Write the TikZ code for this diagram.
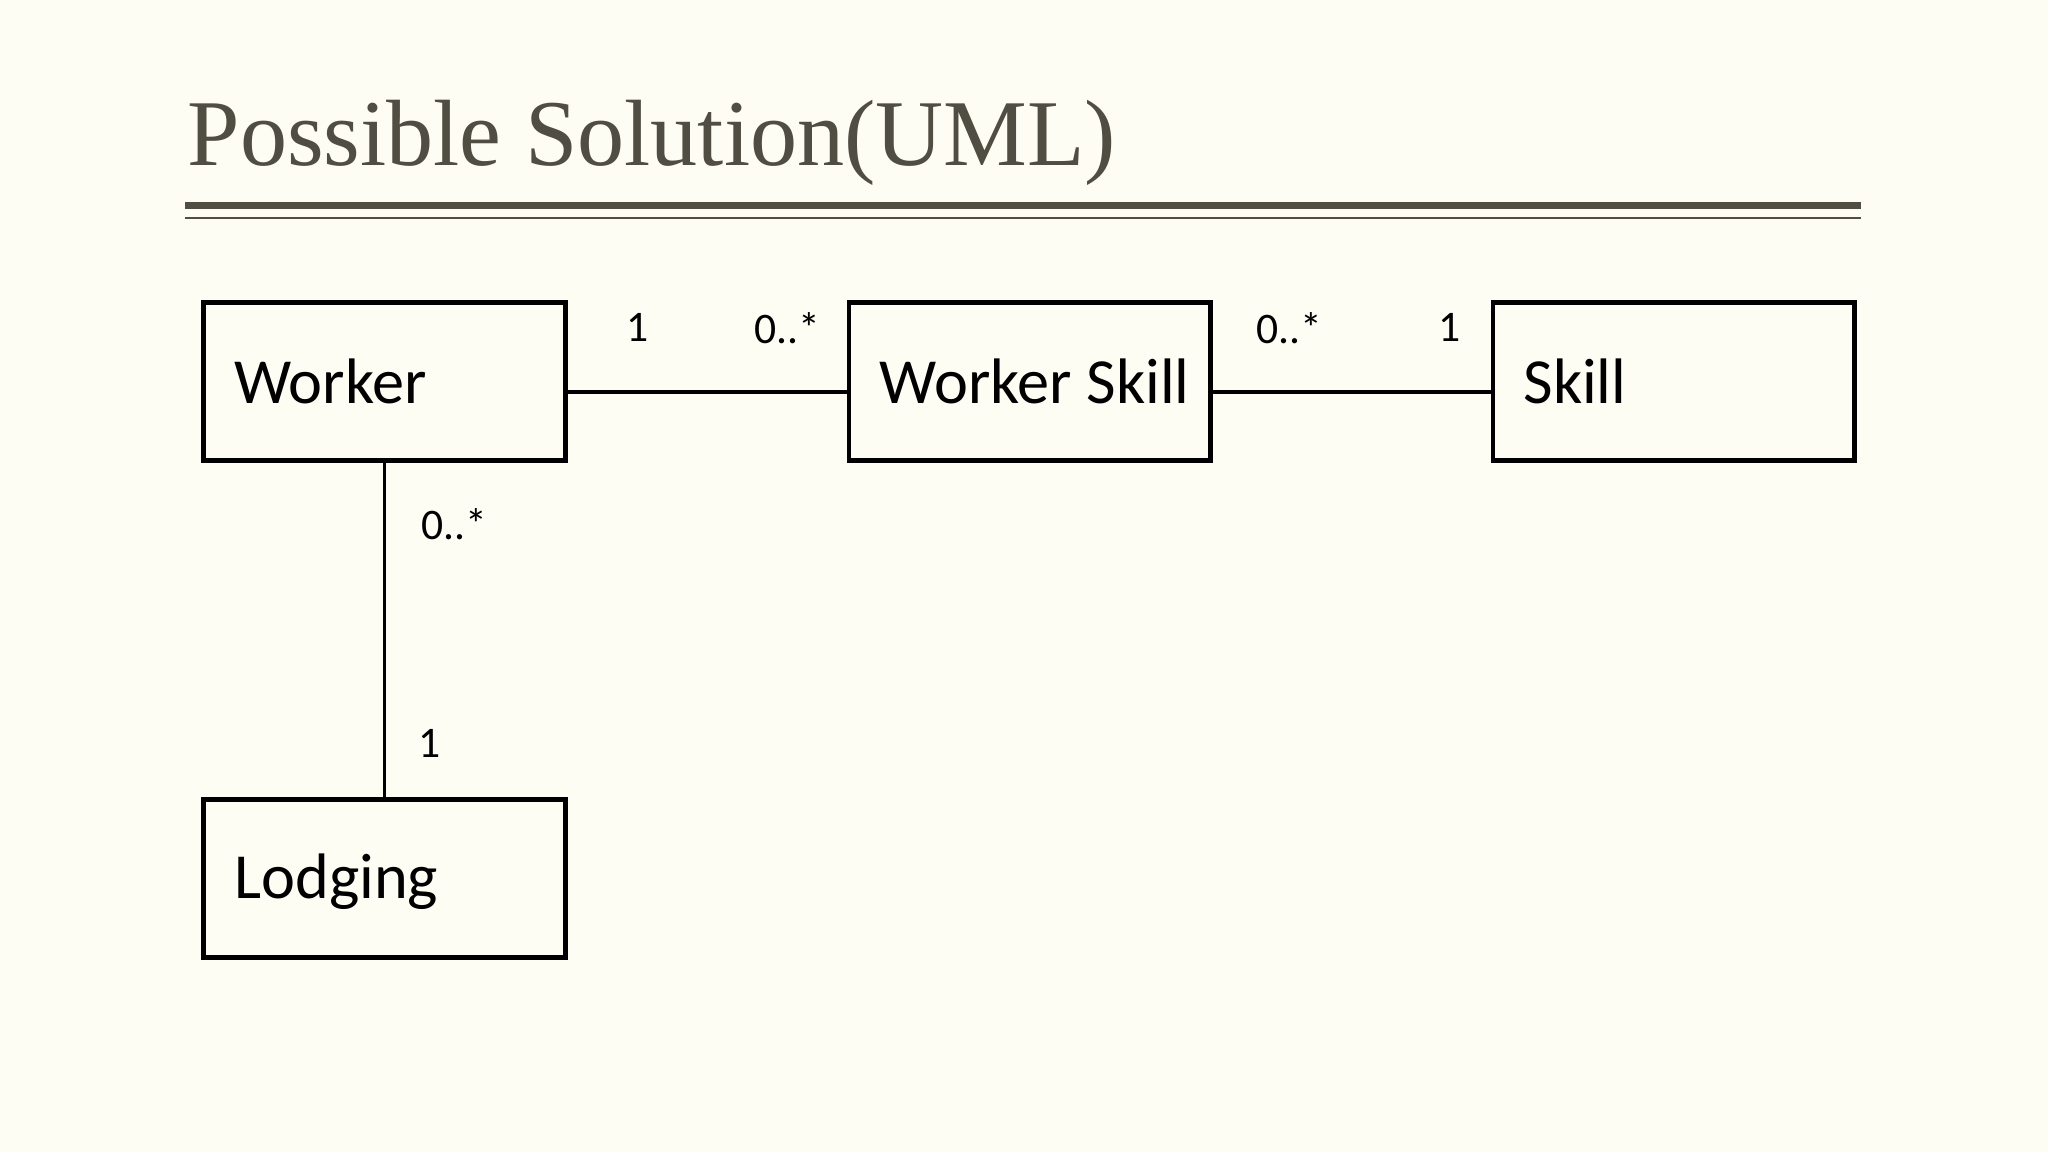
\documentclass[tikz,border=0pt]{standalone}
\usepackage{fontspec}
\setmainfont{Carlito}
\newfontfamily\titlefont{Liberation Serif}
\definecolor{bg}{RGB}{254,253,244}
\definecolor{tc}{RGB}{80,78,66}
\begin{document}
\begin{tikzpicture}[x=0.01cm,y=-0.01cm,
  cls/.style={draw,line width=1pt,minimum width=277*0.01cm,minimum height=121*0.01cm,inner sep=0pt},
  lbl/.style={font=\fontsize{9.5}{11}\selectfont,inner sep=0pt},
  conn/.style={line width=0.8pt}]
\fill[bg] (0,0) rectangle (1568,882);
\useasboundingbox (0,0) rectangle (1568,882);
\node[anchor=base west,text=tc,font=\titlefont\fontsize{20.5}{24}\selectfont,inner sep=0pt] (title) at (143,127) {Possible Solution(UML)};
\fill[tc] (142,155) rectangle (1425,160);
\fill[tc] (142,166) rectangle (1425,167.3);
\node[cls] (w) at (294.5,292) {};
\node[cls] (ws) at (788.5,292) {};
\node[cls] (s) at (1281.5,292) {};
\node[cls] (l) at (294.5,672.5) {};
\node[anchor=west,font=\fontsize{14}{16}\selectfont] at (167,292) {Worker};
\node[anchor=west,font=\fontsize{14}{16}\selectfont] at (661,292) {Worker Skill};
\node[anchor=west,font=\fontsize{14}{16}\selectfont] at (1154,292) {Skill};
\node[anchor=west,font=\fontsize{14}{16}\selectfont] at (167,675) {Lodging};
\draw[conn] (w.east |- 0,300) -- (ws.west |- 0,300);
\draw[conn] (ws.east |- 0,300) -- (s.west |- 0,300);
\draw[conn] (w.south) -- (l.north);
\node[lbl] at (488,251) {1};
\node[lbl] at (603,251) {0..*};
\node[lbl] at (987,251) {0..*};
\node[lbl] at (1110,251) {1};
\node[lbl] at (348,401) {0..*};
\node[lbl] at (329,569) {1};
\end{tikzpicture}
\end{document}
